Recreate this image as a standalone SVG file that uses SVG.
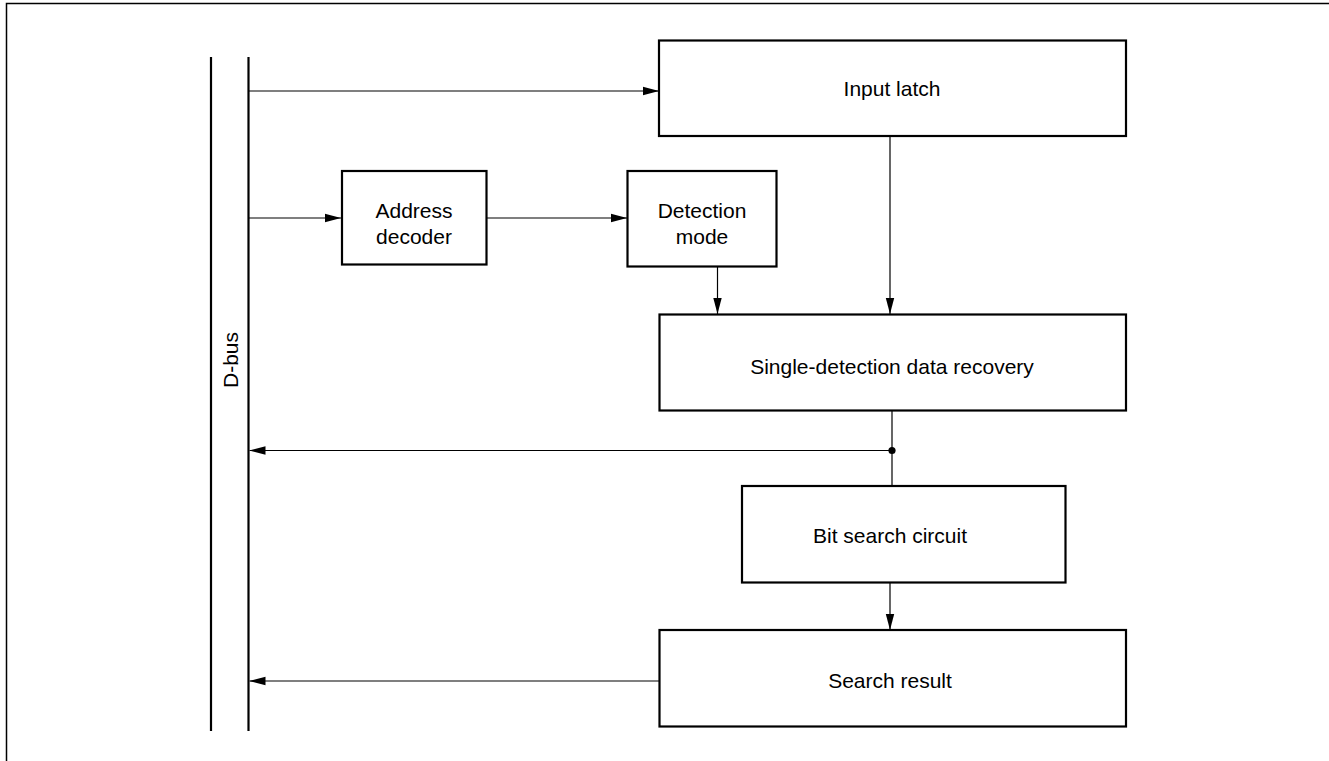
<svg xmlns="http://www.w3.org/2000/svg" width="1329" height="761" viewBox="0 0 1329 761">
<style>
.box{fill:#fff;stroke:#000;stroke-width:2.2}
.t{font-family:"Liberation Sans",Arial,sans-serif;font-size:21px;fill:#000;text-anchor:middle}
.c{stroke:#000;stroke-width:1.2;fill:none}
.bus{stroke:#000;stroke-width:2.2}
.frame{stroke:#000;stroke-width:1.5;fill:none}
</style>
<defs>
<marker id="ah" markerUnits="userSpaceOnUse" markerWidth="16" markerHeight="10" refX="16" refY="5" orient="auto">
<path d="M0,0.8 L16,5 L0,9.2 Z" fill="#000"/>
</marker>
</defs>
<rect width="1329" height="761" fill="#fff"/>
<path class="frame" d="M6.5,761 L6.5,3.5 L1329,3.5"/>
<g id="dbus">
<line class="bus" x1="211" y1="57" x2="211" y2="731"/>
<line class="bus" x1="248.5" y1="57" x2="248.5" y2="731"/>
<text class="t" transform="translate(238,360) rotate(-90)" x="0" y="0">D-bus</text>
</g>
<g id="connectors">
<line class="c" x1="249" y1="91" x2="659" y2="91" marker-end="url(#ah)"/>
<line class="c" x1="249" y1="218" x2="341" y2="218" marker-end="url(#ah)"/>
<line class="c" x1="487" y1="218" x2="627" y2="218" marker-end="url(#ah)"/>
<line class="c" x1="717.5" y1="267" x2="717.5" y2="314" marker-end="url(#ah)"/>
<line class="c" x1="890" y1="136" x2="890" y2="314" marker-end="url(#ah)"/>
<line class="c" x1="892" y1="411" x2="892" y2="486"/>
<line class="c" x1="892" y1="450.5" x2="249.5" y2="450.5" marker-end="url(#ah)"/>
<circle cx="892" cy="450.5" r="3.6" fill="#000"/>
<line class="c" x1="890" y1="582" x2="890" y2="630" marker-end="url(#ah)"/>
<line class="c" x1="659" y1="681" x2="249.5" y2="681" marker-end="url(#ah)"/>
</g>
<g id="input-latch">
<rect class="box" x="659" y="40.5" width="467" height="95.5"/>
<text class="t" x="892" y="96">Input latch</text>
</g>
<g id="address-decoder">
<rect class="box" x="342" y="171" width="144.5" height="93.5"/>
<text class="t" x="414" y="218">Address</text>
<text class="t" x="414" y="243.5">decoder</text>
</g>
<g id="detection-mode">
<rect class="box" x="627.5" y="171" width="149" height="95.5"/>
<text class="t" x="702" y="218">Detection</text>
<text class="t" x="702" y="243.5">mode</text>
</g>
<g id="single-detection">
<rect class="box" x="659.5" y="314.5" width="466.5" height="96"/>
<text class="t" x="892" y="374">Single-detection data recovery</text>
</g>
<g id="bit-search">
<rect class="box" x="742" y="486" width="323.5" height="96.5"/>
<text class="t" x="890" y="542.5">Bit search circuit</text>
</g>
<g id="search-result">
<rect class="box" x="659.5" y="630" width="466.5" height="96.5"/>
<text class="t" x="890" y="688">Search result</text>
</g>
</svg>
